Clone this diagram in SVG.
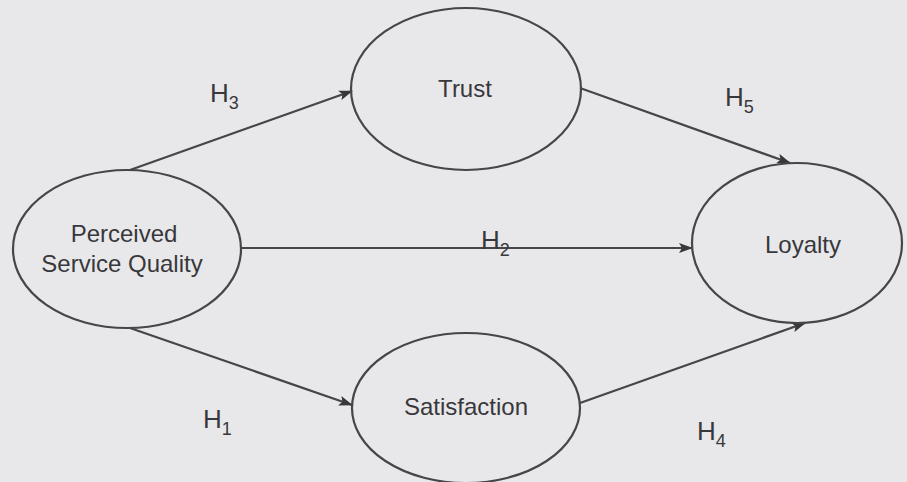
<svg xmlns="http://www.w3.org/2000/svg" width="907" height="482" viewBox="0 0 907 482">
<style>
.node ellipse{fill:none;stroke:#45454a;stroke-width:2.2}
.lbl{font-family:"Liberation Sans",Arial,sans-serif;font-size:24px;fill:#38383c;text-anchor:middle}
.h{font-family:"Liberation Sans",Arial,sans-serif;font-size:26px;fill:#38383c}
.h tspan.s{font-size:18px}
.edge{stroke:#45454a;stroke-width:2.2;fill:none;marker-end:url(#ah)}
</style>
<defs>
<marker id="ah" markerWidth="14" markerHeight="10" refX="13" refY="5" orient="auto" markerUnits="userSpaceOnUse">
<path d="M0,0 L14,5 L0,10 L3,5 Z" fill="#38383c"/>
</marker>
</defs>
<rect width="907" height="482" fill="#e8e8ea"/>
<g id="connectors">
<line class="edge" x1="130" y1="170" x2="352" y2="91"/>
<line class="edge" x1="240" y1="248" x2="692" y2="248"/>
<line class="edge" x1="130" y1="328" x2="352" y2="405"/>
<line class="edge" x1="580" y1="88" x2="790" y2="163"/>
<line class="edge" x1="580" y1="403" x2="805" y2="323"/>
<text class="h" x="210" y="102">H<tspan class="s" dy="7">3</tspan></text>
<text class="h" x="481" y="249">H<tspan class="s" dy="7">2</tspan></text>
<text class="h" x="203" y="428">H<tspan class="s" dy="7">1</tspan></text>
<text class="h" x="725" y="106">H<tspan class="s" dy="7">5</tspan></text>
<text class="h" x="697" y="440">H<tspan class="s" dy="7">4</tspan></text>
</g>
<g id="psq" class="node">
<ellipse cx="127" cy="249" rx="114" ry="79"/>
<text class="lbl" x="124" y="242">Perceived</text>
<text class="lbl" x="122" y="272">Service Quality</text>
</g>
<g id="trust" class="node">
<ellipse cx="466" cy="89" rx="115" ry="81"/>
<text class="lbl" x="465" y="97">Trust</text>
</g>
<g id="loyalty" class="node">
<ellipse cx="797" cy="243" rx="105" ry="80"/>
<text class="lbl" x="803" y="253">Loyalty</text>
</g>
<g id="satisfaction" class="node">
<ellipse cx="466" cy="408" rx="114" ry="75"/>
<text class="lbl" x="466" y="415">Satisfaction</text>
</g>
</svg>
